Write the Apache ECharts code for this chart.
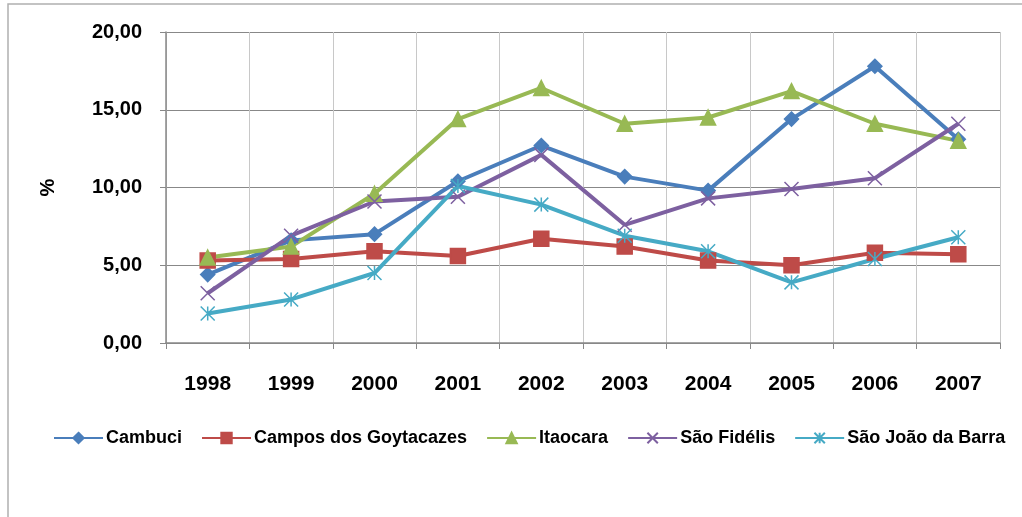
<!DOCTYPE html>
<html>
<head>
<meta charset="utf-8">
<script src="https://cdn.jsdelivr.net/npm/echarts@6/dist/echarts.min.js"></script>
<style>
html, body { margin: 0; padding: 0; background: #fff; }
#chart { width: 1022px; height: 517px; }
</style>
</head>
<body>
<div id="chart"></div>
<script>
// anos
var years = ['1998', '1999', '2000', '2001', '2002', '2003', '2004', '2005', '2006', '2007'];
// valores em %
var cambuci = [4.4, 6.6, 7.0, 10.4, 12.7, 10.7, 9.8, 14.4, 17.8, 13.1];
var campos = [5.3, 5.4, 5.9, 5.6, 6.7, 6.2, 5.3, 5.0, 5.8, 5.7];
var itaocara = [5.5, 6.2, 9.6, 14.4, 16.4, 14.1, 14.5, 16.2, 14.1, 13.0];
var saoFidelis = [3.2, 6.9, 9.1, 9.4, 12.1, 7.6, 9.3, 9.9, 10.6, 14.1];
var saoJoao = [1.9, 2.8, 4.5, 10.1, 8.9, 6.9, 5.9, 3.9, 5.4, 6.8];
var yTicks = [0, 5, 10, 15, 20];

var font = '"Liberation Sans", Arial, sans-serif';
var xMark = 'path://M0,0L10,10M10,0L0,10';
var starMark = 'path://M0,0L10,10M10,0L0,10M5,0L5,10';

function makeSeries(name, data, color, symbol, size) {
    return {
        name: name,
        type: 'line',
        data: data,
        symbol: symbol,
        symbolSize: size,
        lineStyle: { color: color, width: 4 },
        itemStyle: { color: color, borderColor: color, borderWidth: 1.5 }
    };
}

var myChart = echarts.init(document.getElementById('chart'));
myChart.setOption({
    animation: false,
    backgroundColor: '#fff',
    graphic: [{
        type: 'rect',
        shape: { x: 8, y: 4, width: 1030, height: 530 },
        style: { fill: 'none', stroke: '#b0b0b0', lineWidth: 1.5 },
        silent: true
    }],
    grid: { left: 166, right: 22, top: 32, bottom: 174 },
    xAxis: {
        type: 'category',
        data: years,
        boundaryGap: true,
        axisLine: { lineStyle: { color: '#888', width: 1.5 } },
        axisTick: { show: true, length: 6, lineStyle: { color: '#888' } },
        splitLine: { show: true, lineStyle: { color: '#c8c8c8', width: 1 } },
        axisLabel: { color: '#000', fontFamily: font, fontWeight: 'bold', fontSize: 21, margin: 31 }
    },
    yAxis: {
        type: 'value',
        min: yTicks[0],
        max: yTicks[yTicks.length - 1],
        interval: 5,
        name: '%',
        nameLocation: 'middle',
        nameRotate: 90,
        nameGap: 108,
        nameTextStyle: { color: '#000', fontFamily: font, fontWeight: 'bold', fontSize: 20 },
        axisLine: { show: true, lineStyle: { color: '#888', width: 1.5 } },
        axisTick: { show: true, length: 6, lineStyle: { color: '#888' } },
        splitLine: { lineStyle: { color: '#888', width: 1 } },
        axisLabel: {
            color: '#000', fontFamily: font, fontWeight: 'bold', fontSize: 20, margin: 24,
            formatter: function (v) { return v.toFixed(2).replace('.', ','); }
        }
    },
    legend: {
        left: 53,
        top: 429,
        width: 990,
        padding: 0,
        itemWidth: 49,
        itemHeight: 13,
        itemGap: 19,
        textStyle: { color: '#000', fontFamily: font, fontWeight: 'bold', fontSize: 18, padding: [0, 0, 0, -2] },
        data: ['Cambuci', 'Campos dos Goytacazes', 'Itaocara', 'São Fidélis', 'São João da Barra']
    },
    series: [
        makeSeries('Cambuci', cambuci, '#4A7EBB', 'diamond', 14),
        makeSeries('Campos dos Goytacazes', campos, '#BE4B48', 'rect', 15),
        makeSeries('Itaocara', itaocara, '#98B954', 'triangle', 15),
        makeSeries('São Fidélis', saoFidelis, '#7D60A0', xMark, 14),
        makeSeries('São João da Barra', saoJoao, '#46AAC5', starMark, 14)
    ]
});
</script>
</body>
</html>
